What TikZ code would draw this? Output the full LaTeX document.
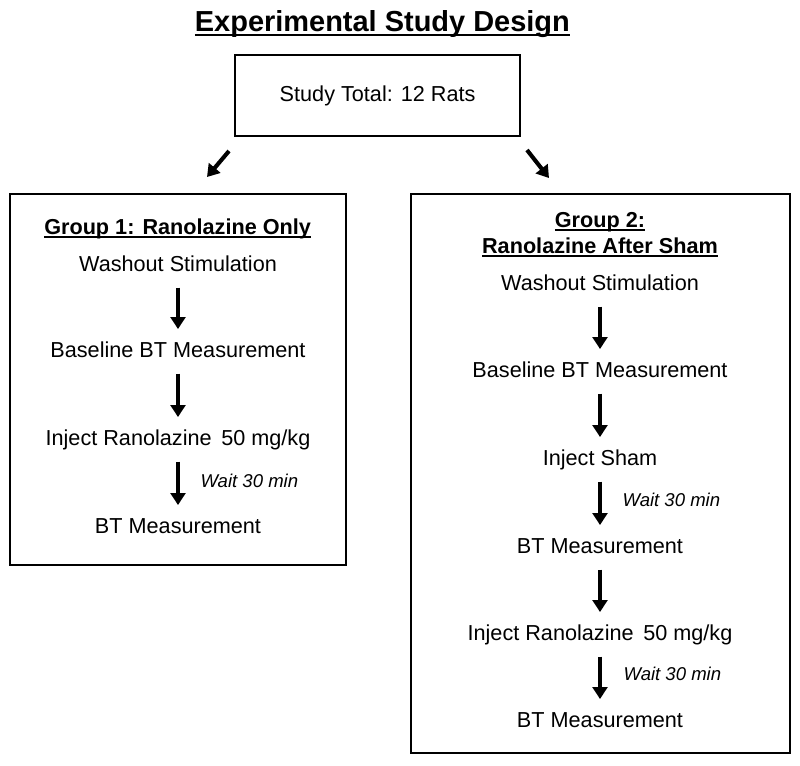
\documentclass[tikz,border=0pt]{standalone}
\usepackage{fontspec}
\setmainfont{Liberation Sans}
\usetikzlibrary{arrows.meta}
\newcommand{\ulbar}[1]{\setbox0\hbox{#1}\rlap{\rule[-0.17em]{\wd0}{0.07em}}\box0}

\begin{document}
\begin{tikzpicture} [ % styles first
    thick, >={Triangle[width=10.5pt,length=8.5pt]}, font=\fontsize{15.4}{18}\selectfont,
    titletext/.style = {anchor=base, inner sep=0pt, font=\fontsize{20.6}{24}\selectfont\bfseries},
    box/.style = {shape=rectangle, draw, line width=1.4pt, inner sep=0pt},
    head/.style = {anchor=base, inner sep=0pt, font=\fontsize{15.4}{18}\selectfont\bfseries},
    stage/.style = {anchor=base, inner sep=0pt, text height=11pt, text depth=3pt},
    wait/.style = {anchor=base west, inner sep=0pt, font=\fontsize{13.2}{16}\selectfont\itshape},
    arr/.style = {line width=2.9pt, ->},
    flow/.style = {arr, shorten <=8.5pt, shorten >=8.5pt}
]

\useasboundingbox (0,0) rectangle (20,-19.125);

% title and total
\node [titletext] (title) at (9.56,-0.775){\ulbar{Experimental Study Design}};
\node [box, minimum width=7.125cm, minimum height=2.025cm] (total) at (9.44,-2.39){Study Total: 12 Rats};

% group boxes
\node [box, minimum width=8.4cm, minimum height=9.275cm] (box1) at (4.45,-9.49){};
\node [box, minimum width=9.475cm, minimum height=13.975cm] (box2) at (15.01,-11.84){};

% group 1
\node [head] (g1) at (4.44,-5.85){\ulbar{Group 1: Ranolazine Only}};
\node [stage] (ws1) at (4.45,-6.775){Washout Stimulation};
\node [stage] (bl1) at (4.45,-8.925){Baseline BT Measurement};
\node [stage] (inj1) at (4.45,-11.125){Inject Ranolazine\, 50 mg/kg};
\node [stage] (bt1) at (4.45,-13.325){BT Measurement};
\node [wait] (w1) at (5.0,-12.175){Wait 30 min};

% group 2
\node [head] (g2a) at (15.0,-5.675){\ulbar{Group 2:}};
\node [head] (g2b) at (15.0,-6.325){\ulbar{Ranolazine After Sham}};
\node [stage] (ws2) at (15.0,-7.25){Washout Stimulation};
\node [stage] (bl2) at (15.0,-9.425){Baseline BT Measurement};
\node [stage] (sh2) at (15.0,-11.625){Inject Sham};
\node [stage] (bt2a) at (15.0,-13.825){BT Measurement};
\node [stage] (inj2) at (15.0,-16.0){Inject Ranolazine\, 50 mg/kg};
\node [stage] (bt2b) at (15.0,-18.175){BT Measurement};
\node [wait] (w2a) at (15.55,-12.65){Wait 30 min};
\node [wait] (w2b) at (15.575,-17.0){Wait 30 min};

% split arrows
\coordinate (s1) at (5.725,-3.775);
\coordinate (e1) at (5.175,-4.425);
\coordinate (s2) at (13.175,-3.75);
\coordinate (e2) at (13.725,-4.45);
\draw [arr](s1)--(e1);
\draw [arr](s2)--(e2);

% steps
\draw [flow](ws1)--(bl1);
\draw [flow](bl1)--(inj1);
\draw [flow](inj1)--(bt1);

\draw [flow](ws2)--(bl2);
\draw [flow](bl2)--(sh2);
\draw [flow](sh2)--(bt2a);
\draw [flow](bt2a)--(inj2);
\draw [flow](inj2)--(bt2b);

\end{tikzpicture}
\end{document}
